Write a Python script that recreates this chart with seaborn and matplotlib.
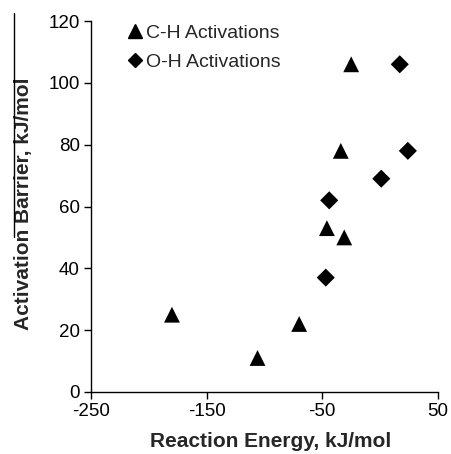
import matplotlib
matplotlib.use("Agg")
import matplotlib.pyplot as plt
import seaborn as sns
import pandas as pd
from matplotlib.lines import Line2D

ch_x = [-180, -106, -70, -46, -31, -34, -25]
ch_y = [25, 11, 22, 53, 50, 78, 106]
oh_x = [-47, -44, 1, 24, 17]
oh_y = [37, 62, 69, 78, 106]
series_names = ["C-H Activations", "O-H Activations"]
x_ticks = [-250, -150, -50, 50]
y_ticks = [0, 20, 40, 60, 80, 100, 120]

df = pd.DataFrame({
    "x": ch_x + oh_x,
    "y": ch_y + oh_y,
    "series": [series_names[0]] * len(ch_x) + [series_names[1]] * len(oh_x),
})

sns.set_style("white")
plt.rcParams["font.family"] = ["Liberation Sans", "DejaVu Sans"]
plt.rcParams["axes.unicode_minus"] = False

fig = plt.figure(figsize=(4.51, 4.54), dpi=100)
ax = fig.add_axes([0.2018, 0.1366, 0.971 - 0.2018, 0.9537 - 0.1366])

sns.scatterplot(data=df, x="x", y="y", style="series", size="series",
                markers={series_names[0]: "^", series_names[1]: "D"},
                sizes={series_names[0]: 130, series_names[1]: 85},
                color="black", edgecolor="none", ax=ax, legend=False)

ax.set_xlim(-250, 50)
ax.set_ylim(0, 120)
ax.set_xticks(x_ticks)
ax.set_yticks(y_ticks)
ax.tick_params(axis="both", direction="out", length=5, width=1, colors="black",
               labelsize=13.5, pad=3, bottom=True, left=True)
for side in ["top", "right"]:
    ax.spines[side].set_visible(False)
for side in ["left", "bottom"]:
    ax.spines[side].set_color("black")
    ax.spines[side].set_linewidth(1.0)

ax.set_xlabel("Reaction Energy, kJ/mol", fontsize=15, fontweight="bold")
ax.set_ylabel("Activation Barrier, kJ/mol", fontsize=15, fontweight="bold")
ax.xaxis.set_label_coords(0.517, -0.108)
ax.yaxis.set_label_coords(-0.167, 0.508)

handles = [
    Line2D([], [], marker="^", linestyle="none", color="black", markersize=10),
    Line2D([], [], marker="D", linestyle="none", color="black", markersize=7),
]
ax.legend(handles, series_names, loc="upper left", bbox_to_anchor=(0.07, 1.012),
          frameon=False, fontsize=14, handletextpad=0.0, handlelength=1.2,
          labelspacing=0.6, borderaxespad=0)

# thin vertical line artifact at left edge
fig.add_artist(Line2D([14 / 451, 14 / 451], [1 - 13 / 454, 1 - 237 / 454],
                      transform=fig.transFigure, color="black", linewidth=1))

fig.savefig("out.png", dpi=100)
